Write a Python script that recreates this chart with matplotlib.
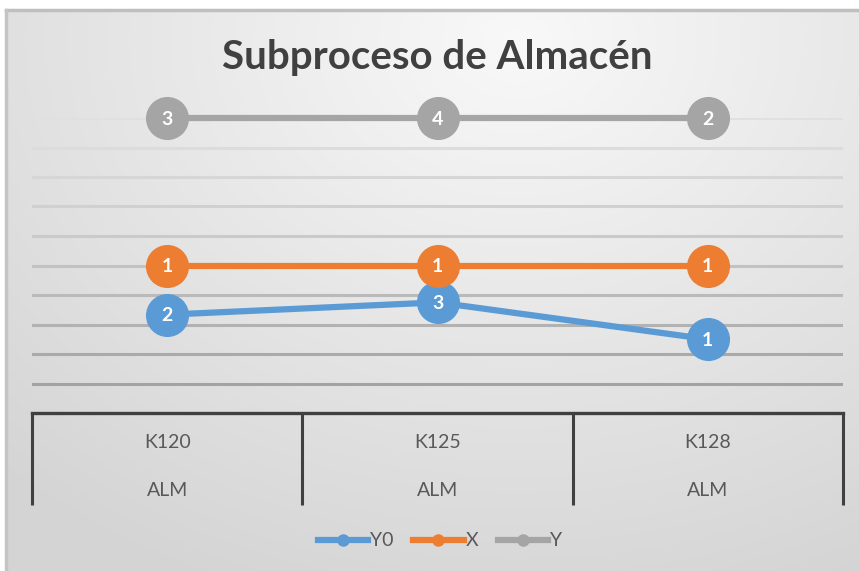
import numpy as np
import matplotlib.pyplot as plt
from matplotlib.lines import Line2D
import matplotlib.transforms as mtransforms

plt.rcParams['font.family'] = ['Liberation Sans Narrow', 'Lato', 'DejaVu Sans']

# data (100% stacked line chart, labels show raw values)
categories = ['K120', 'K125', 'K128']
group_labels = ['ALM', 'ALM', 'ALM']
series_names = ['Y0', 'X', 'Y']
y0_vals = [2, 3, 1]
x_vals = [1, 1, 1]
y_vals = [3, 4, 2]
colors = ['#5B9BD5', '#ED7D31', '#A5A5A5']

W, H = 859, 571
fig = plt.figure(figsize=(W / 100, H / 100), dpi=100)

# background panel with soft radial gradient
bg = fig.add_axes([0, 0, 1, 1], zorder=-10)
gx, gy = np.meshgrid(np.linspace(0, 1, 300), np.linspace(0, 1, 200))
r = np.sqrt(((gx - 0.6) * 1.2) ** 2 + (gy - 0.05) ** 2)
shade = 0.975 - 0.14 * np.clip(r / 1.05, 0, 1)
rgb = np.dstack([shade, shade, shade])
left_px, top_px = 6, 10
bg.imshow(rgb, extent=[left_px / W, 1, 0, 1 - top_px / H], aspect='auto', origin='upper')
bg.set_xlim(0, 1)
bg.set_ylim(0, 1)
bg.axhline(1 - top_px / H, xmin=left_px / W, color='#bfbfbf', lw=2.5)
bg.axvline(left_px / W, ymax=1 - top_px / H, color='#c4c4c4', lw=2.5)
bg.axis('off')

ax = fig.add_axes([32 / W, 158 / H, 811 / W, 295 / H])
ax.patch.set_alpha(0)

raw = np.array([y0_vals, x_vals, y_vals], dtype=float)
totals = raw.sum(axis=0)
cum = np.cumsum(raw, axis=0) / totals
xpos = np.arange(len(categories))

for i in range(len(series_names)):
    ax.plot(xpos, cum[i], color=colors[i], lw=4.5, marker='o', ms=30,
            clip_on=False, zorder=3 + i, solid_capstyle='round')
    for xx, yy, v in zip(xpos, cum[i], raw[i]):
        ax.text(xx, yy - 0.004, f'{int(v)}', color='white', fontsize=14, fontweight='bold',
                ha='center', va='center', zorder=10 + i, family=['Lato', 'DejaVu Sans'])

ax.set_xlim(-0.5, len(categories) - 0.5)
ax.set_ylim(0, 1.0)
ax.set_yticks(np.linspace(0.1, 1.0, 10))
ax.yaxis.grid(True, lw=2.2)
grid_cols = ['#a3a3a3', '#aaaaaa', '#b2b2b2', '#bababa', '#c2c2c2',
             '#cacaca', '#d0d0d0', '#d6d6d6', '#dcdcdc', '#e0e0e0']
for gl, c in zip(ax.get_ygridlines(), grid_cols):
    gl.set_color(c)
ax.set_axisbelow(True)
ax.tick_params(left=False, labelleft=False, bottom=False, labelbottom=False)
for s in ['left', 'right', 'top']:
    ax.spines[s].set_visible(False)
ax.spines['bottom'].set_color('#404040')
ax.spines['bottom'].set_linewidth(2.4)

# multi-level category axis
trans = mtransforms.blended_transform_factory(ax.transData, ax.transAxes)
depth = -(505 - 413) / 295
bounds = np.arange(len(categories) + 1) - 0.5
ax.vlines(bounds, depth, 0, transform=trans, color='#404040', lw=2.2, clip_on=False)
for xx, c, g in zip(xpos, categories, group_labels):
    ax.text(xx, -(443 - 413) / 295, c, transform=trans, ha='center', va='center',
            fontsize=14, color='#595959')
    ax.text(xx, -(491 - 413) / 295, g, transform=trans, ha='center', va='center',
            fontsize=14, color='#595959')

fig.text(437 / W, 1 - 58 / H, 'Subproceso de Almacén', ha='center', va='center',
         fontsize=29, fontweight='bold', color='#404040')

handles = [Line2D([], [], color=c, lw=4.5, marker='o', ms=8) for c in colors]
fig.legend(handles, series_names, loc='center', bbox_to_anchor=(440 / W, 1 - 541 / H),
           ncol=3, frameon=False, fontsize=14, handlelength=2.6, handletextpad=0.1,
           columnspacing=1.0, labelcolor='#595959')

fig.savefig('out.png', dpi=100)
